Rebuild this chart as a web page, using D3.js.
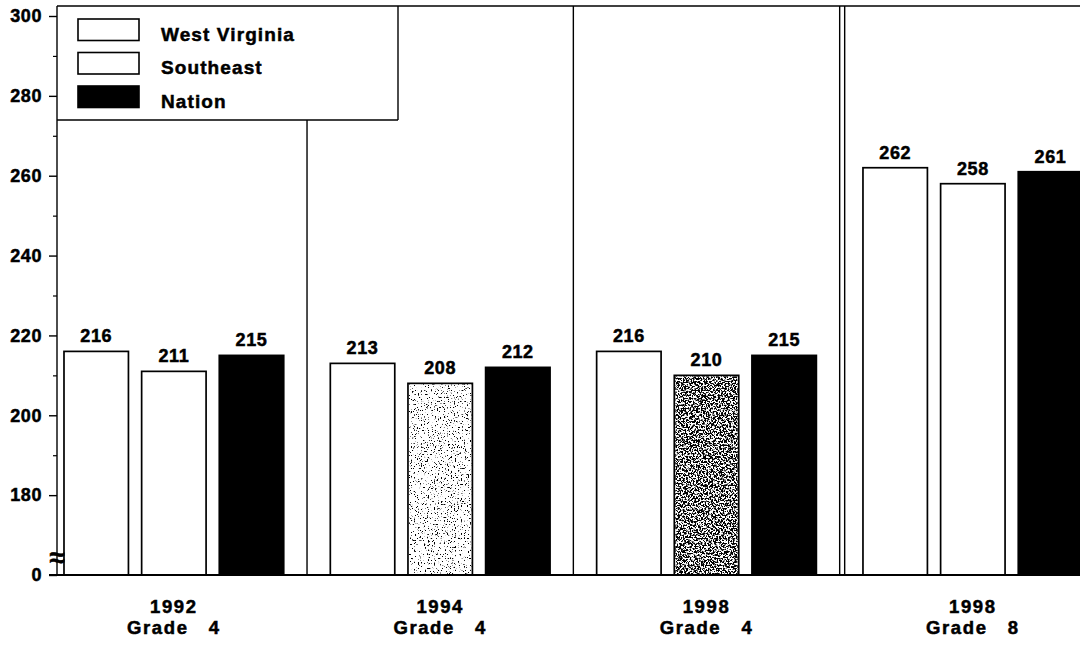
<!DOCTYPE html>
<html>
<head>
<meta charset="utf-8">
<script src="https://cdn.jsdelivr.net/npm/d3@7"></script>
<style>
  html, body { margin: 0; padding: 0; background: #fff; }
  svg { display: block; font-family: "Liberation Sans", Arial, Helvetica, sans-serif; font-weight: bold; }
  svg text { stroke: #000; stroke-width: 0.5px; }
</style>
</head>
<body>
<svg id="chart" width="1080" height="647"></svg>
<script>
// ---------------- DATA ----------------
const years = ["1992", "1994", "1998", "1998"];
const grades = ["Grade 4", "Grade 4", "Grade 4", "Grade 8"];
const seriesNames = ["West Virginia", "Southeast", "Nation"];
const westVirginia = [216, 213, 216, 262];
const southeast = [211, 208, 210, 258];
const nation = [215, 212, 215, 261];
const yTickValues = [160, 180, 200, 220, 240, 260, 280, 300];
const yTickLabels = ["0", "180", "200", "220", "240", "260", "280", "300"];
const yMinorTicks = [190, 210, 230, 250, 270, 290];

// ---------------- STYLES ----------------
const seShade = ["none", "light", "dark", "none"];   // Southeast bar shading per group
const seriesFill = ["#fff", "#fff", "#000"];

const svg = d3.select("#chart");
const W = 1080, H = 647;

const groupKeys = years.map((y, i) => i);
const x0 = d3.scaleBand().domain(groupKeys).range([40.7, 1106]).paddingInner(0).paddingOuter(0);
const x1 = d3.scaleBand().domain(seriesNames).range([0, x0.bandwidth()]).paddingInner(0.17).paddingOuter(0.3);
const y = d3.scaleLinear().domain([160, 300]).range([575, 16]);

const axisX = 57, topY = 6, baseY = y(160);

// defs: stipple filters
const defs = svg.append("defs");
function stipple(id, bias, seed, freq) {
  const f = defs.append("filter").attr("id", id)
    .attr("x", 0).attr("y", 0).attr("width", 1).attr("height", 1)
    .attr("filterUnits", "objectBoundingBox");
  f.append("feTurbulence").attr("type", "fractalNoise").attr("baseFrequency", freq)
    .attr("numOctaves", 3).attr("seed", seed).attr("result", "noise");
  f.append("feColorMatrix").attr("in", "noise").attr("type", "matrix")
    .attr("values", `0 0 0 0 0  0 0 0 0 0  0 0 0 0 0  12 0 0 0 ${bias}`).attr("result", "dots");
  f.append("feComposite").attr("in", "dots").attr("in2", "SourceAlpha").attr("operator", "in");
}
stipple("stLight", -7.4, 4, "0.7");
stipple("stDark", -5.5, 7, "0.6");

// data rows
const rows = groupKeys.map(i => ({
  g: i,
  values: [westVirginia[i], southeast[i], nation[i]]
}));

// bars
const gGroups = svg.append("g").selectAll("g").data(rows).join("g")
  .attr("transform", d => `translate(${x0(d.g)},0)`);

gGroups.each(function(d) {
  const g = d3.select(this);
  d.values.forEach((v, si) => {
    const name = seriesNames[si];
    g.append("rect")
      .attr("x", x1(name)).attr("y", y(v))
      .attr("width", x1.bandwidth()).attr("height", baseY - y(v))
      .attr("fill", seriesFill[si]).attr("stroke", "#000").attr("stroke-width", 1.7);
    if (si === 1 && seShade[d.g] !== "none") {
      g.append("rect")
        .attr("x", x1(name) + 1).attr("y", y(v) + 1)
        .attr("width", x1.bandwidth() - 2).attr("height", baseY - y(v) - 2)
        .attr("fill", "#000")
        .attr("filter", seShade[d.g] === "light" ? "url(#stLight)" : "url(#stDark)");
    }
    g.append("text")
      .attr("x", x1(name) + x1.bandwidth() / 2).attr("y", y(v) - 9)
      .attr("text-anchor", "middle").attr("font-size", 18).attr("letter-spacing", 0.6)
      .text(v);
  });
});

// frame lines
const lines = svg.append("g").attr("stroke", "#000").attr("stroke-width", 1.4);
// top border
lines.append("line").attr("x1", axisX).attr("x2", W).attr("y1", topY).attr("y2", topY);
// y axis line
lines.append("line").attr("x1", axisX).attr("x2", axisX).attr("y1", topY).attr("y2", baseY);
// baseline
lines.append("line").attr("x1", 49).attr("x2", W).attr("y1", baseY).attr("y2", baseY).attr("stroke-width", 1.8);

// legend box
const legendBottom = 120, legendRight = 398;
lines.append("line").attr("x1", axisX).attr("x2", legendRight).attr("y1", legendBottom).attr("y2", legendBottom);
lines.append("line").attr("x1", legendRight).attr("x2", legendRight).attr("y1", topY).attr("y2", legendBottom);

// panel dividers
groupKeys.slice(1).forEach(i => {
  const xb = x0(i);
  const y1 = (xb < legendRight) ? legendBottom : topY;
  lines.append("line").attr("x1", xb).attr("x2", xb).attr("y1", y1).attr("y2", baseY);
  if (i === groupKeys.length - 1) {
    lines.append("line").attr("x1", xb + 5).attr("x2", xb + 5).attr("y1", topY).attr("y2", baseY);
  }
});

// y axis ticks
const axMajor = d3.axisLeft(y).tickValues(yTickValues)
  .tickFormat((d, i) => yTickLabels[i]).tickSize(8).tickPadding(7);
const gAx = svg.append("g").attr("transform", `translate(${axisX},0)`).call(axMajor);
gAx.select(".domain").remove();
gAx.selectAll("line").attr("stroke", "#000").attr("stroke-width", 1.4);
gAx.selectAll("text").attr("font-size", 18).attr("font-family", null).attr("font-weight", "bold")
  .attr("letter-spacing", 0.6).attr("fill", "#000");

const axMinor = d3.axisLeft(y).tickValues(yMinorTicks).tickFormat("").tickSize(4);
const gMin = svg.append("g").attr("transform", `translate(${axisX},0)`).call(axMinor);
gMin.select(".domain").remove();
gMin.selectAll("line").attr("stroke", "#000").attr("stroke-width", 1.2);

// axis break symbol
svg.append("text").attr("x", axisX).attr("y", y(165) + 12)
  .attr("text-anchor", "middle").attr("font-size", 28).attr("font-weight", "bold")
  .text("\u2248");

// category labels
const catG = svg.append("g").attr("text-anchor", "middle").attr("font-size", 18.5).attr("letter-spacing", 1.6);
groupKeys.forEach(i => {
  const cx = x0(i) + x1("Southeast") + x1.bandwidth() / 2;
  catG.append("text").attr("x", cx).attr("y", 613).text(years[i]);
  catG.append("text").attr("x", cx).attr("y", 634)
    .text(grades[i].replace(" ", "\u00a0\u00a0\u00a0"));
});

// legend
const legG = svg.append("g");
const swTop = [19, 52.5, 86];
seriesNames.forEach((name, i) => {
  legG.append("rect").attr("x", 78).attr("y", swTop[i]).attr("width", 61).attr("height", 21.5)
    .attr("fill", seriesFill[i]).attr("stroke", "#000").attr("stroke-width", 1.6);
  legG.append("text").attr("x", 161).attr("y", swTop[i] + 21.5)
    .attr("font-size", 19).attr("letter-spacing", 1.1).text(name);
});
</script>
</body>
</html>
